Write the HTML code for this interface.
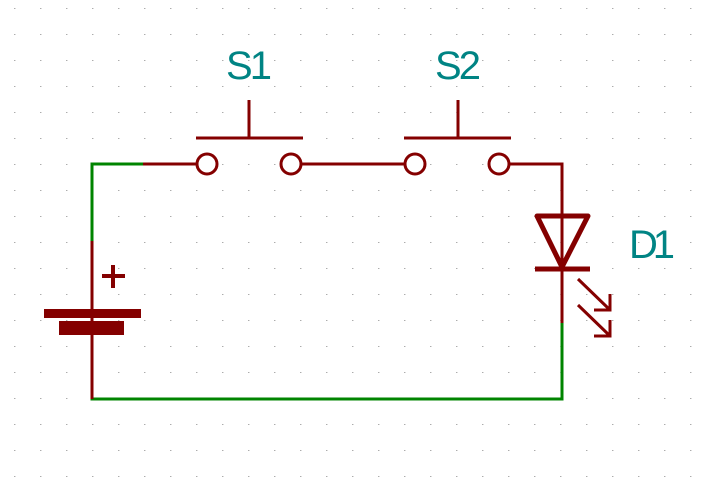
<!DOCTYPE html>
<html><head><meta charset="utf-8"><style>
html,body{margin:0;padding:0;background:#fff;}
svg{display:block;}
text{font-family:"Liberation Sans","DejaVu Sans",sans-serif;fill:#008484;font-size:40px;}
</style></head><body>
<svg width="706" height="477" viewBox="0 0 706 477">
<g id="grid" fill="#888"></g>
<g stroke-width="3" fill="none" stroke-linecap="square">
  <polyline points="92,241 92,164 143,164" stroke="#008400"/>
  <polyline points="92,399 562,399 562,323" stroke="#008400"/>
</g>
<g stroke="#840000" stroke-width="3" fill="none">
  <line x1="143" y1="164" x2="197" y2="164"/>
  <circle cx="207" cy="164" r="10"/>
  <circle cx="291" cy="164" r="10"/>
  <line x1="196" y1="138" x2="303" y2="138"/>
  <line x1="249" y1="100" x2="249" y2="138"/>
  <line x1="301" y1="164" x2="405" y2="164"/>
</g>
<text x="249" y="79" text-anchor="middle" textLength="46">S1</text>
<g stroke="#840000" stroke-width="3" fill="none">
  <circle cx="415" cy="164" r="10"/>
  <circle cx="499" cy="164" r="10"/>
  <line x1="404" y1="138" x2="511" y2="138"/>
  <line x1="458" y1="100" x2="458" y2="138"/>
  <polyline points="509,164 562,164 562,323"/>
</g>
<text x="458" y="79" text-anchor="middle" textLength="46">S2</text>
<g stroke="#840000" fill="none">
  <polygon points="537,216 588,216 562,267" stroke-width="5" stroke-linejoin="round"/>
  <line x1="535" y1="269" x2="590" y2="269" stroke-width="5"/>
  <line x1="578" y1="279" x2="609" y2="309" stroke-width="3"/>
  <polyline points="594,310 610,310 610,294" stroke-width="3"/>
  <line x1="578" y1="305" x2="609" y2="335" stroke-width="3"/>
  <polyline points="594,336 610,336 610,320" stroke-width="3"/>
</g>
<text x="652" y="258" text-anchor="middle" textLength="46">D1</text>
<g fill="#840000" stroke="#840000">
  <line x1="92" y1="241" x2="92" y2="399" stroke-width="3"/>
  <rect x="44" y="309" width="97" height="9" stroke="none"/>
  <rect x="59" y="321" width="65" height="14" stroke="none"/>
  <line x1="102" y1="276" x2="125" y2="276" stroke-width="4"/>
  <line x1="113" y1="265" x2="113" y2="288" stroke-width="4"/>
</g>
<script>
const g=document.getElementById('grid');
for(let y=8;y<477;y+=26){for(let x=14.3;x<706;x+=26){
const r=document.createElementNS('http://www.w3.org/2000/svg','rect');
r.setAttribute('x',x.toFixed(1));r.setAttribute('y',y);r.setAttribute('width',1);r.setAttribute('height',1);


g.appendChild(r);}}
</script>
</svg>
</body></html>
